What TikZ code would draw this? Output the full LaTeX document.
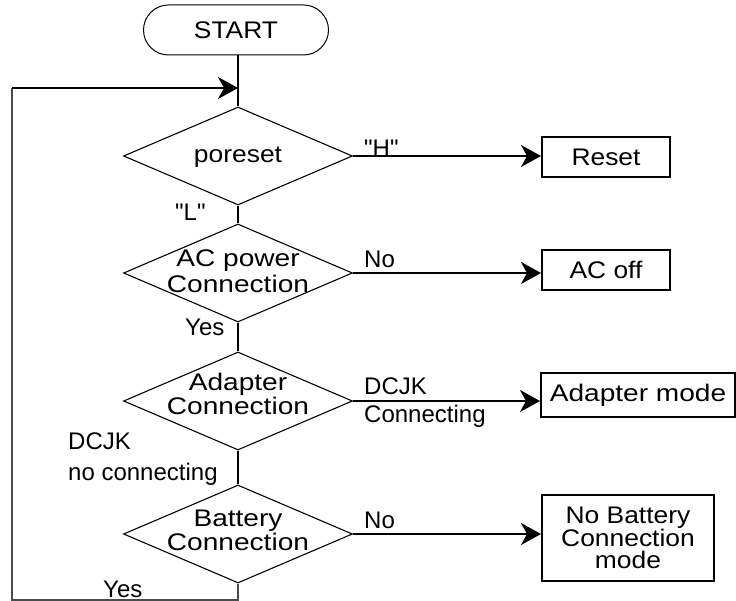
\documentclass[tikz,border=0pt]{standalone}
\usepackage{fontspec}
\setmainfont{Liberation Sans}
\newfontfamily\labfont{Liberation Sans}
\newfontfamily\nodefont{Liberation Sans}[FakeStretch=1.1]
\newfontfamily\widefont{Liberation Sans}[FakeStretch=1.17]
\usetikzlibrary{arrows.meta,shapes.geometric}
\begin{document}
\begin{tikzpicture}[x=1pt,y=-1pt,
  conn/.style={line width=2.2pt},
  arr/.style={line width=2.2pt,-{Stealth[length=20pt,width=22pt,inset=6pt]}},
  loopline/.style={line width=1.2pt,black!70},
  dia/.style={shape=diamond,draw,line width=1.1pt,minimum width=229pt,minimum height=98pt,inner sep=0pt},
  dtext/.style={align=center,inner sep=0pt},
  box/.style={draw,line width=2pt,inner sep=0pt,align=center,font=\nodefont\fontsize{24}{22}\selectfont},
  lab/.style={font=\labfont\fontsize{24}{24}\selectfont,inner sep=0pt,anchor=base west}]
\useasboundingbox (0,0) rectangle (736,601);

% start terminal
\node[draw,line width=1pt,rounded corners=25pt,minimum width=185pt,minimum height=50pt,inner sep=0pt,
      font=\nodefont\fontsize{24}{24}\selectfont] (start) at (236,30) {START};

% decisions
\node[dia] (d1) at (238,156) {};
\node[dia] (d2) at (238,273) {};
\node[dia] (d3) at (238,401) {};
\node[dia] (d4) at (238,534) {};
\node[dtext,font=\nodefont\fontsize{24}{24}\selectfont] (t1) at (238,157) {poreset};
\node[dtext,font=\widefont\fontsize{24}{26}\selectfont] (t2) at (238,271.5) {AC power\\Connection};
\node[dtext,font=\widefont\fontsize{24}{19}\selectfont] (t3) at (238,394) {Adapter\\Connection};
\node[dtext,font=\widefont\fontsize{24}{18}\selectfont] (t4) at (238,530.5) {Battery\\Connection};

% result boxes
\node[box,minimum width=128pt,minimum height=40pt] (reset) at (606,157) {Reset};
\node[box,minimum width=128pt,minimum height=40pt] (acoff) at (606,270) {AC off};
\node[box,minimum width=194pt,minimum height=44pt,font=\widefont\fontsize{24}{24}\selectfont] (adapt) at (638,395) {Adapter mode};
\node[box,minimum width=172pt,minimum height=86pt] (nobat) at (628,538) {No Battery\\Connection\\mode};

% vertical flow
\draw[conn] (start.south -| d1.north) -- (d1.north);
\draw[conn] (d1.south) -- (d2.north);
\draw[conn] (d2.south) -- (d3.north);
\draw[conn] (d3.south) -- (d4.north);

% loop back
\coordinate (lb) at (12,600);
\coordinate (lt) at (12,88);
\draw[loopline] (d4.south) |- (lb) -- (lt);
\draw[arr] (lt) -- (lt -| d1.north);

% right branches
\draw[arr] (d1.east) -- (d1.east -| reset.west);
\draw[arr] (d2.east) -- (d2.east -| acoff.west);
\draw[arr] (d3.east) -- (d3.east -| adapt.west);
\draw[arr] (d4.east) -- (d4.east -| nobat.west);

% labels
\node[lab] (lH) at (364,157) {"H"};
\node[lab] (lL) at (175,221) {"L"};
\node[lab] (lNo1) at (364,268) {No};
\node[lab] (lYes1) at (185,336) {Yes};
\node[lab] (lDC1) at (364,395) {DCJK};
\node[lab] (lDC2) at (364,422) {Connecting};
\node[lab] (lDC3) at (68,449) {DCJK};
\node[lab] (lDC4) at (68,480) {no connecting};
\node[lab] (lNo2) at (364,528) {No};
\node[lab] (lYes2) at (103,597) {Yes};
\end{tikzpicture}
\end{document}
